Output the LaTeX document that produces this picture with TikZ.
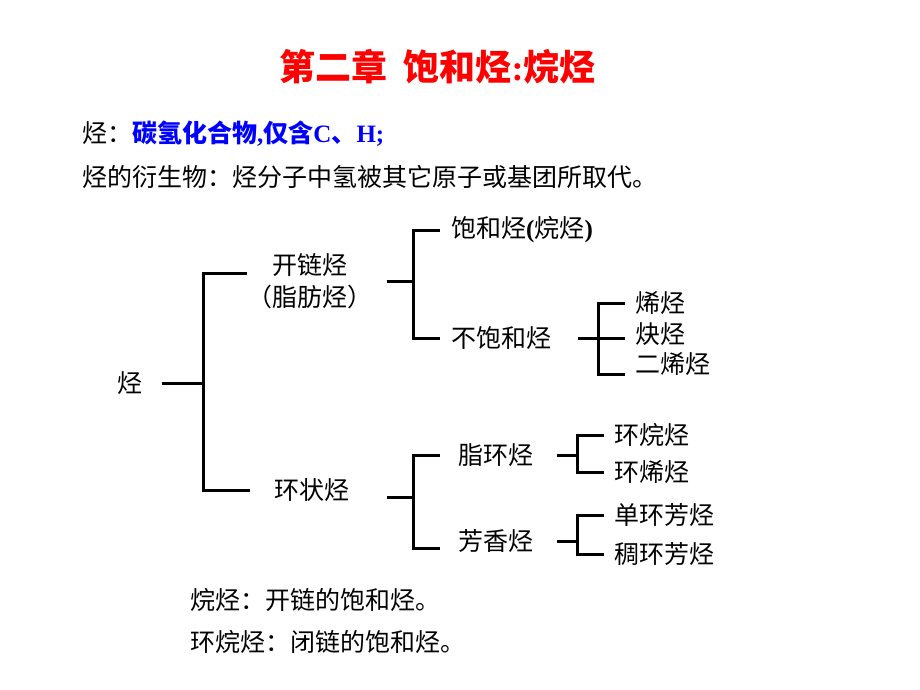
\documentclass[tikz,border=0pt]{standalone}
\usepackage{fontspec}
\setmainfont{Liberation Serif}
\newfontfamily\cjk{Noto Sans CJK SC}
\newcommand{\lat}[1]{{\rmfamily\bfseries #1}}
\definecolor{titlered}{RGB}{255,0,0}
\definecolor{hcblue}{RGB}{0,0,255}

\begin{document}
\begin{tikzpicture}[x=1pt,y=-1pt,
        word/.style={font=\cjk\fontsize{25}{32}\selectfont, inner ysep=0pt, inner xsep=10pt},
        branch/.style={line width=3pt}]
        \useasboundingbox (0,0) rectangle (920,690);
        \node[font=\cjk\bfseries\fontsize{36}{40}\selectfont, text=titlered] (title) at (437.5,67) {第二章\hspace{16pt}饱和烃\lat{:}烷烃};
        \node[word, anchor=west, inner xsep=0pt] (def) at (82,134) {烃：\textcolor{hcblue}{\bfseries 碳氢化合物\lat{,}仅含\lat{C}、\lat{H;}}};
        \node[word, anchor=west, inner xsep=0pt] (deriv) at (82,177) {烃的衍生物：烃分子中氢被其它原子或基团所取代。};

        \node[word, inner xsep=19.5pt] (root) at (130,383) {烃};
        \node[word, align=center, inner xsep=0pt] (chain) at (310,281) {开链烃\\（脂肪烃）};
        \node[word, inner xsep=24pt] (ring) at (311.5,490) {环状烃};
        \node[word, inner xsep=11pt] (sat) at (522,230) {饱和烃\lat{(}烷烃\lat{)}};
        \node[word, inner xsep=11pt] (unsat) at (501,338) {不饱和烃};
        \node[word] (alkene) at (660,303) {烯烃};
        \node[word] (alkyne) at (660,334) {炔烃};
        \node[word] (diene) at (672.5,364) {二烯烃};
        \node[word, inner xsep=18pt] (ali) at (495.5,455) {脂环烃};
        \node[word, inner xsep=18pt] (aro) at (495.5,541) {芳香烃};
        \node[word] (cane) at (651.5,435) {环烷烃};
        \node[word] (cene) at (651.5,472) {环烯烃};
        \node[word] (mono) at (664,515) {单环芳烃};
        \node[word] (fused) at (664,554) {稠环芳烃};

        \coordinate (j1) at (203,383);
        \coordinate (j2) at (413,281);
        \coordinate (j3) at (598,338);
        \coordinate (j4) at (413,497);
        \coordinate (j5) at (577,455);
        \coordinate (j6) at (577,541);

        \draw[branch] (root) -- (j1);
        \draw[branch] ([yshift=8pt]chain.west) -| (j1) |- (ring);
        \draw[branch, shorten <=14pt] (chain) -- (j2);
        \draw[branch] (sat) -| (j2) |- (unsat);
        \draw[branch, shorten <=16pt] (unsat) -- (j3) -- (j3 -| alkyne.west);
        \draw[branch] (alkene) -| (j3) |- ([yshift=-10pt]diene.west);
        \draw[branch, shorten <=14pt] ([yshift=-7pt]ring.east) -- (j4);
        \draw[branch] (ali) -| (j4) |- ([yshift=-7pt]aro.west);
        \draw[branch, shorten <=6pt] (ali) -- (j5);
        \draw[branch] (cane) -| (j5) |- (cene);
        \draw[branch, shorten <=6pt] (aro) -- (j6);
        \draw[branch] (mono) -| (j6) |- (fused);

        \node[word, anchor=west, inner xsep=0pt] (alkdef) at (190,600) {烷烃：开链的饱和烃。};
        \node[word, anchor=west, inner xsep=0pt] (cycdef) at (190,642) {环烷烃：闭链的饱和烃。};
\end{tikzpicture}
\end{document}
